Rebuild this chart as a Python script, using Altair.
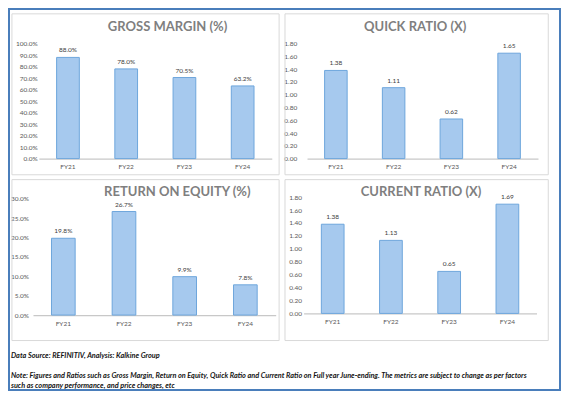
import altair as alt
import pandas as pd

# ---- data ----
years = ["FY21", "FY22", "FY23", "FY24"]
gross_margin = [0.88, 0.78, 0.705, 0.632]
quick_ratio = [1.38, 1.11, 0.62, 1.65]
return_on_equity = [0.198, 0.267, 0.099, 0.078]
current_ratio = [1.38, 1.13, 0.65, 1.69]

titles = ["GROSS MARGIN (%)", "QUICK RATIO (X)", "RETURN ON EQUITY (%)", "CURRENT RATIO (X)"]
pct_ticks_gm = [0.0, 0.1, 0.2, 0.3, 0.4, 0.5, 0.6, 0.7, 0.8, 0.9, 1.0]
pct_ticks_roe = [0.0, 0.05, 0.10, 0.15, 0.20, 0.25, 0.30]
ratio_ticks = [0.0, 0.2, 0.4, 0.6, 0.8, 1.0, 1.2, 1.4, 1.6, 1.8]

source_text = ["Data Source: REFINITIV, Analysis: Kalkine Group"]
note_lines = [
    "Note: Figures and Ratios such as Gross Margin, Return on Equity, Quick Ratio and Current Ratio on Full  year June-ending. The metrics are subject to change as per factors",
    "such as company performance, and price changes, etc",
]

# ---- layout helpers (reference pixel coords -> chart coords) ----
W, H = 551, 381
def px(x):
    return (x - 1) * W / 563
def py(y):
    return (y - 1) * H / 393

FONT = "Lato"
BAR_FILL = "#a6c9ee"
BAR_STROKE = "#6ea6dc"


def panel(values, ticks, fmt, xr, yr, ydom, y_anchor, title, tpos):
    df = pd.DataFrame({"FY": years, "value": values})
    x = alt.X(
        "FY:N", sort=years,
        scale=alt.Scale(range=[px(xr[0]), px(xr[1])], paddingInner=0.61, paddingOuter=0.305),
        axis=alt.Axis(orient="bottom", offset=py(yr[0]) - H, title=None, labelAngle=0,
                      domainColor="#c8c8c8", domainWidth=1.2, ticks=False, labelPadding=5,
                      labelFont=FONT, labelFontSize=6.5, labelColor="#595959", grid=False),
    )
    y = alt.Y(
        "value:Q",
        scale=alt.Scale(domain=ydom, range=[py(yr[0]), py(yr[1])], nice=False, zero=True),
        axis=alt.Axis(orient="left", offset=-px(y_anchor), values=ticks, format=fmt, title=None,
                      domain=False, ticks=False, grid=False, labelPadding=2,
                      labelFont=FONT, labelFontSize=6.5, labelColor="#595959"),
    )
    bars = alt.Chart(df).mark_bar(fill=BAR_FILL, stroke=BAR_STROKE, strokeWidth=1).encode(x=x, y=y)
    labels = alt.Chart(df).mark_text(baseline="middle", dy=-7, font=FONT, fontSize=6.5,
                                     color="#404040").encode(
        x=x, y=y, text=alt.Text("value:Q", format=fmt))
    tdf = pd.DataFrame({"t": [title]})
    ttl = alt.Chart(tdf).mark_text(font=FONT, fontWeight="bold", fontSize=13, color="#7f7f7f",
                                   align="center", baseline="middle").encode(
        x=alt.value(px(tpos[0])), y=alt.value(py(tpos[1])), text="t:N")
    return alt.layer(bars, labels, ttl)


def box(x0, y0, x1, y1):
    d = pd.DataFrame({"k": [0]})
    return alt.Chart(d).mark_rect(fillOpacity=0, stroke="#d9d9d9", strokeWidth=1).encode(
        x=alt.value(px(x0)), x2=alt.value(px(x1)), y=alt.value(py(y0)), y2=alt.value(py(y1)))


boxes = [box(4, 6, 277, 172), box(283, 6, 552, 172), box(4, 177, 277, 343), box(283, 177, 552, 343)]

p1 = panel(gross_margin, pct_ticks_gm, ".1%", (31.5, 269.5), (155.3, 36.7), [0, 1.0], 32,
           titles[0], (163, 20))
p2 = panel(quick_ratio, ratio_ticks, ".2f", (305.5, 541.5), (155.3, 36.7), [0, 1.8], 297,
           titles[1], (416, 20))
p3 = panel(return_on_equity, pct_ticks_roe, ".1%", (25.5, 273.5), (316.7, 196.7), [0, 0.30], 23,
           titles[2], (173, 189.5))
p4 = panel(current_ratio, ratio_ticks, ".2f", (302, 540), (315, 195), [0, 1.8], 302,
           titles[3], (422, 190))

def foot(text, y):
    return alt.Chart(pd.DataFrame({"t": [text]})).mark_text(
        font=FONT, fontWeight="bold", fontStyle="italic", fontSize=7.3, color="#141414",
        align="left", baseline="middle").encode(x=alt.value(px(3)), y=alt.value(py(y)), text="t:N")

src = foot(source_text[0], 359)
note1 = foot(note_lines[0], 380)
note2 = foot(note_lines[1], 389.5)

chart = alt.layer(*boxes, p1, p2, p3, p4, src, note1, note2).resolve_scale(
    x="independent", y="independent"
).resolve_axis(x="independent", y="independent").properties(
    width=W, height=H, padding=1, autosize=alt.AutoSizeParams(type="none"),
    background="white",
).configure_view(stroke="#4a7ebb", strokeWidth=2)

chart.save("out.html", embed_options={"renderer": "svg", "actions": False})
